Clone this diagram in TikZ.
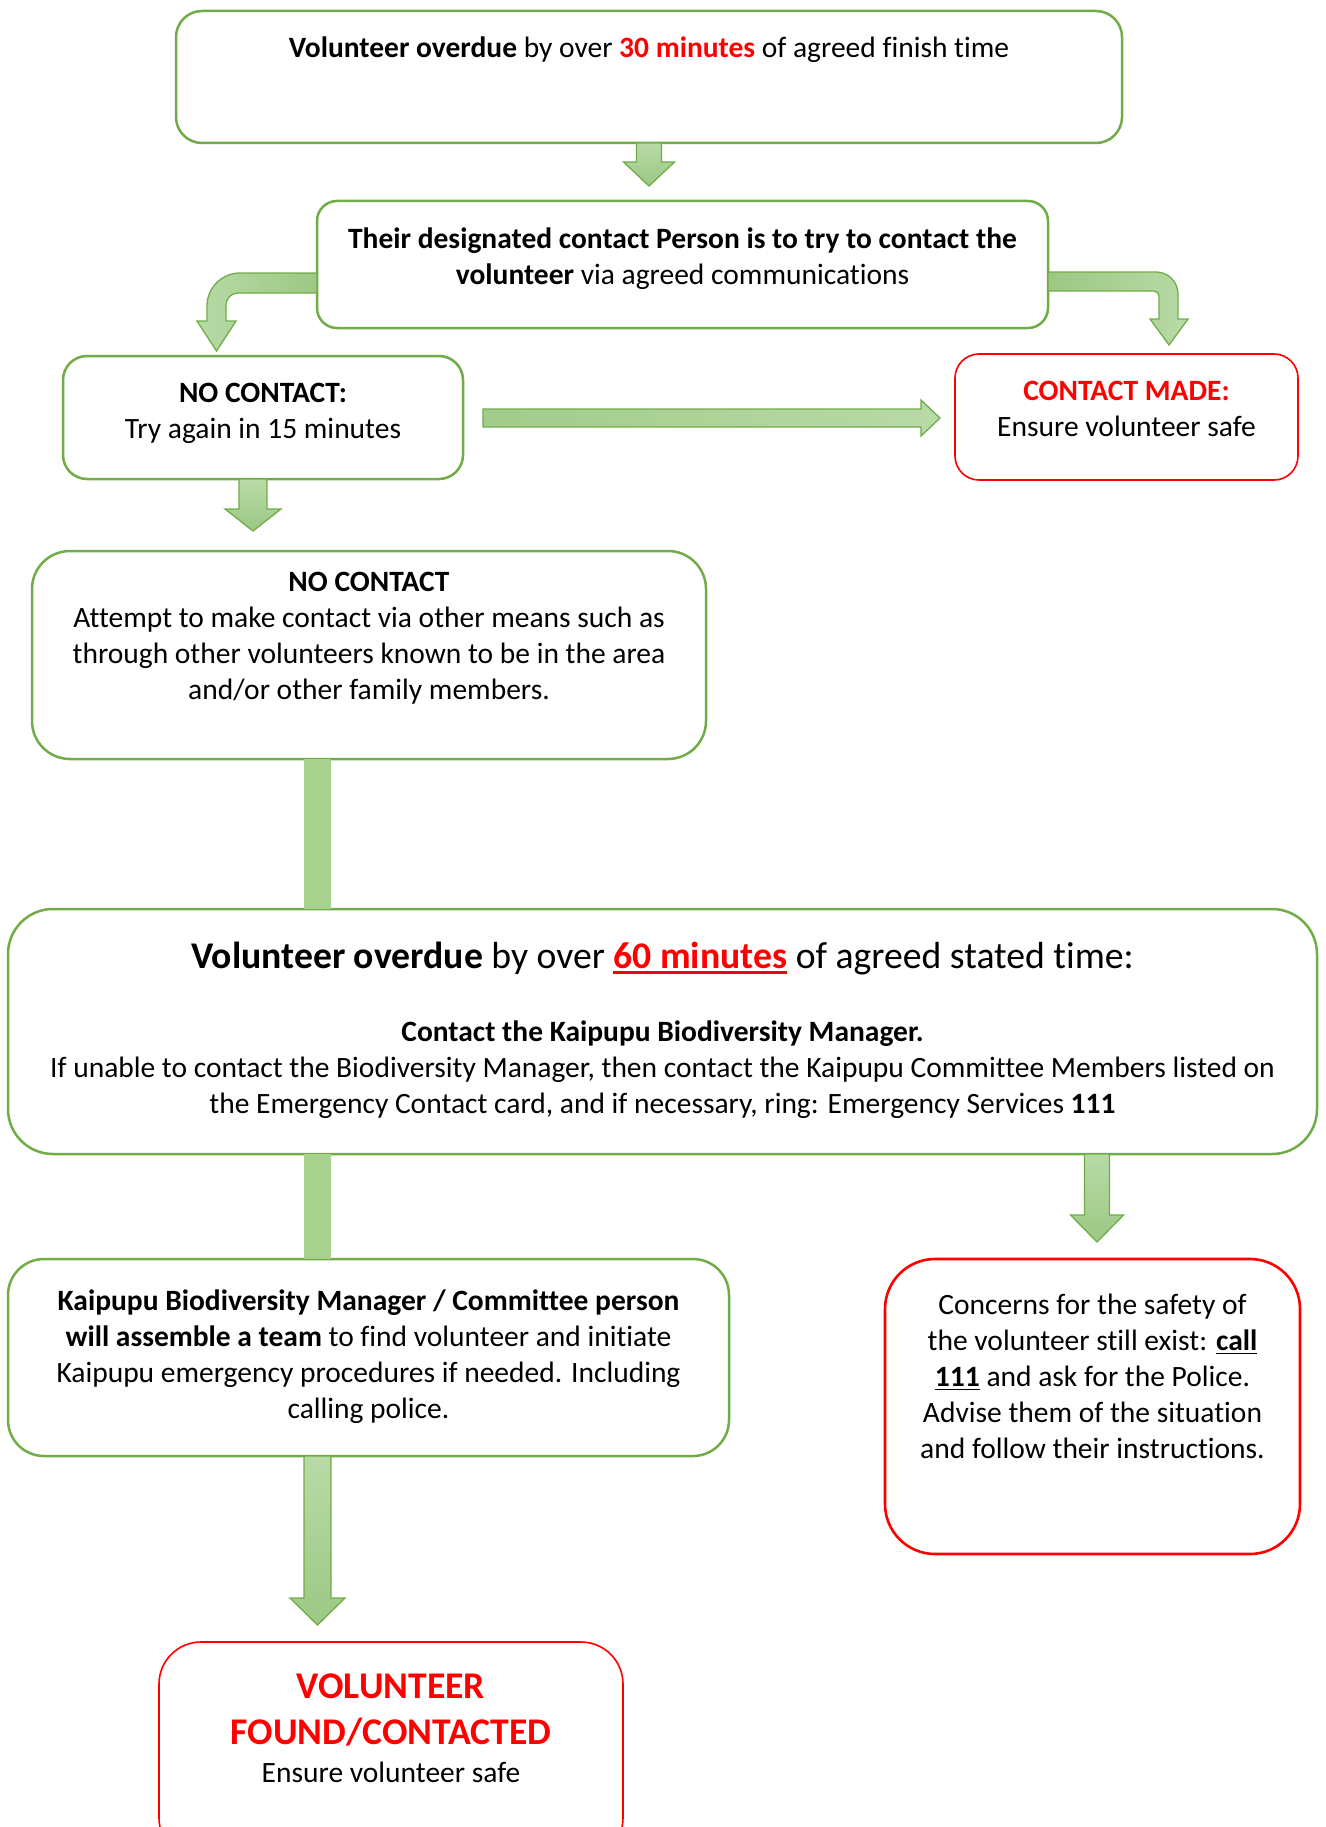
\documentclass[tikz,border=0pt]{standalone}
\usepackage{fontspec}
\setmainfont{Carlito}[Ligatures=NoCommon]
\usetikzlibrary{calc}
\definecolor{gline}{HTML}{70AD47}
\definecolor{rline}{HTML}{FF0000}
\definecolor{afill}{HTML}{A9D18E}
\definecolor{alight}{HTML}{B9DAA7}
\definecolor{adark}{HTML}{9CC884}
\newcommand\nsz{\fontsize{29.5}{36}\selectfont}
\newcommand\bsz{\fontsize{37.7}{46}\selectfont}
\newcommand\ul[1]{\setbox0\hbox{#1}\leavevmode\rlap{\vrule width\wd0 height -0.09em depth 0.15em}\box0}
\newcommand\dnarrow[5]{%
  \path[vshade] (#1) ++(-#2,0) -- ++(0,#3) -- ++({#2-#4},0) -- ++(#4,#5) -- ++(#4,-#5) -- ++({#2-#4},0) -- ++(0,-#3) -- cycle;}
\begin{document}
\begin{tikzpicture}[x=1pt,y=-1pt,
  every node/.style={inner sep=0pt,outer sep=0pt},
  gbox/.style={draw=gline,line width=2.5pt},
  rbox/.style={draw=rline,line width=1.6pt},
  rboxthick/.style={draw=rline,line width=2.6pt},
  txt/.style={anchor=base,align=center,font=\nsz},
  vshade/.style={draw=gline,line width=1.3pt,top color=alight,bottom color=adark},
  bar/.style={fill=afill}]
\path[use as bounding box] (0,0) rectangle (1325,1827);
\clip (0,0) rectangle (1325,1827);
\fill[white] (0,0) rectangle (1325,1827);

% boxes
\node[gbox,rounded corners=26pt,minimum width=946pt,minimum height=132pt] (b1) at (649,77) {};
\node[gbox,rounded corners=20pt,minimum width=731pt,minimum height=127pt] (b2) at (682.5,264.5) {};
\node[gbox,rounded corners=24pt,minimum width=400pt,minimum height=123pt] (b3) at (263,417.5) {};
\node[rbox,rounded corners=24pt,minimum width=343pt,minimum height=126pt] (b4) at (1126.5,417) {};
\node[gbox,rounded corners=38pt,minimum width=674pt,minimum height=208pt] (b5) at (369,655) {};
\node[gbox,rounded corners=45pt,minimum width=1309pt,minimum height=245pt] (b6) at (662.5,1031.5) {};
\node[gbox,rounded corners=36pt,minimum width=721pt,minimum height=197pt] (b7) at (368.5,1357.5) {};
\node[rboxthick,rounded corners=50pt,minimum width=415pt,minimum height=295pt] (b8) at (1092.5,1406.5) {};
\node[rbox,rounded corners=42pt,minimum width=464pt,minimum height=218pt] (b9) at (391,1751) {};

\coordinate (colL) at (317.5,0);

% connectors
\dnarrow{b1.south}{12.5}{19}{25.5}{24}
\path[draw=gline,line width=1.3pt,left color=alight,right color=adark]
  ($(b2.west)+(0,8.5)$) -- ++(-77,0)
  .. controls +(-18.2,0) and +(0,-18.2) .. ++(-33,33)
  -- ++(0,15) -- ++(-10,0) -- ++(19.5,30) -- ++(19.5,-30) -- ++(-10,0) -- ++(0,-16)
  .. controls +(0,-6.6) and +(-6.6,0) .. ++(12,-12)
  -- ++(79,0) -- cycle;
\path[draw=gline,line width=1.3pt,left color=adark,right color=alight]
  ($(b2.east)+(0,7.5)$) -- ++(108,0)
  .. controls +(12.1,0) and +(0,-12.1) .. ++(22,22)
  -- ++(0,25) -- ++(10,0) -- ++(-19,26) -- ++(-19,-26) -- ++(9,0) -- ++(0,-23)
  .. controls +(0,-2.8) and +(2.8,0) .. ++(-5,-5)
  -- ++(-106,0) -- cycle;
\path[draw=gline,line width=1.3pt,left color=adark!80!alight,right color=alight]
  ($(b3.east)+(20,-8.5)$) -- ++(438,0) -- ++(0,-9) -- ++(19,18) -- ++(-19,18) -- ++(0,-9) -- ++(-438,0) -- cycle;
\dnarrow{$(b3.south)+(-10,0)$}{14}{30}{28}{22}
\fill[bar] ($(colL |- b5.south)+(-13.5,0)$) rectangle ($(colL |- b6.north)+(13.5,0)$);
\fill[bar] ($(colL |- b6.south)+(-13.5,0)$) rectangle ($(colL |- b7.north)+(13.5,0)$);
\dnarrow{$(b8.north |- b6.south)+(4.5,0)$}{12.5}{61}{26.5}{27}
\dnarrow{colL |- b7.south}{13.5}{142}{27.5}{27}

% texts (multi-line nodes: base = last line's baseline)
\node[txt] (t1) at (649,58) {\textbf{Volunteer overdue} by over \textcolor{rline}{\textbf{30 minutes}} of agreed finish time};
\node[txt] (t2) at (682.5,284) {\textbf{Their designated contact Person is to try to contact the}\\\textbf{volunteer} via agreed communications};
\node[txt] (t3) at (263,438) {\textbf{NO CONTACT:}\\Try again in 15 minutes};
\node[txt] (t4) at (1126.5,436) {\textcolor{rline}{\textbf{CONTACT MADE:}}\\Ensure volunteer safe};
\node[txt] (t5) at (369,699) {\textbf{NO CONTACT}\\Attempt to make contact via other means such as\\through other volunteers known to be in the area\\and/or other family members.};
\node[txt,font=\bsz] (t6a) at (662.5,968) {\textbf{Volunteer overdue} by over \textcolor{rline}{\textbf{\ul{60 minutes}}} of agreed stated time:};
\node[txt] (t6b) at (662.5,1113) {\textbf{Contact the Kaipupu Biodiversity Manager.}\\If unable to contact the Biodiversity Manager, then contact the Kaipupu Committee Members listed on\\the Emergency Contact card, and if necessary, ring: Emergency Services \textbf{111}};
\node[txt] (t7) at (368.5,1418) {\textbf{Kaipupu Biodiversity Manager / Committee person}\\\textbf{will assemble a team} to find volunteer and initiate\\Kaipupu emergency procedures if needed. Including\\calling police.};
\node[txt] (t8) at (1092.5,1458) {Concerns for the safety of\\the volunteer still exist: \textbf{\ul{call}}\\\textbf{\ul{111}} and ask for the Police.\\Advise them of the situation\\and follow their instructions.};
\node[txt,font=\bsz,text=rline] (t9a) at (391,1744) {\textbf{VOLUNTEER}\\\textbf{FOUND/CONTACTED}};
\node[txt] (t9b) at (391,1782) {Ensure volunteer safe};
\end{tikzpicture}
\end{document}
